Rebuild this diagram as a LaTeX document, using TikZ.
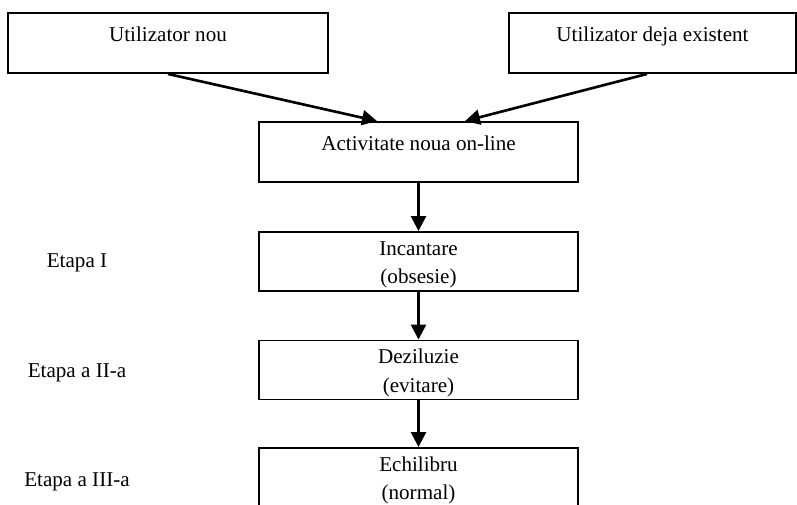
\documentclass[tikz,border=0pt]{standalone}
\usepackage{fontspec}
\setmainfont{Liberation Serif}
\usetikzlibrary{arrows.meta}

\begin{document}
\begin{tikzpicture}[x=0.02cm, y=-0.02cm,
  box/.style={draw, line width=1.1pt, minimum width=6.38cm, inner sep=0pt,
    text height=0.56cm, text depth=0.64cm, font=\fontsize{12}{16}\selectfont},
  stagebox/.style={box, align=center, text height=1.03cm, text depth=0.15cm},
  etapa/.style={font=\fontsize{12}{14}\selectfont},
  flow/.style={line width=1.5pt, -{Triangle[length=0.3cm,width=0.3cm]}}]

\useasboundingbox (0,0) rectangle (797,504);

\node[box, minimum width=6.4cm]  (nou)   at (168,43)   {Utilizator nou};
\node[box, minimum width=5.74cm] (vechi) at (652.5,43) {Utilizator deja existent};
\node[box] (act) at (418.5,152) {Activitate noua on-line};

\node[stagebox] (inc) at (418.5,261.5) {Incantare\\(obsesie)};
\node[stagebox] (dez) at (418.5,370)   {Deziluzie\\(evitare)};
\node[stagebox] (ech) at (418.5,477.5) {Echilibru\\(normal)};

\node[etapa] (e1) at (77,263) {Etapa I};
\node[etapa] (e2) at (77,373) {Etapa a II-a};
\node[etapa] (e3) at (77,482) {Etapa a III-a};

\draw[flow] (nou.south) -- ([xshift=-0.83cm]act.north);
\draw[flow] ([xshift=-0.11cm]vechi.south) -- ([xshift=0.93cm]act.north);
\draw[flow] (act) -- (inc);
\draw[flow] (inc) -- (dez);
\draw[flow] (dez) -- (ech);

\end{tikzpicture}
\end{document}
